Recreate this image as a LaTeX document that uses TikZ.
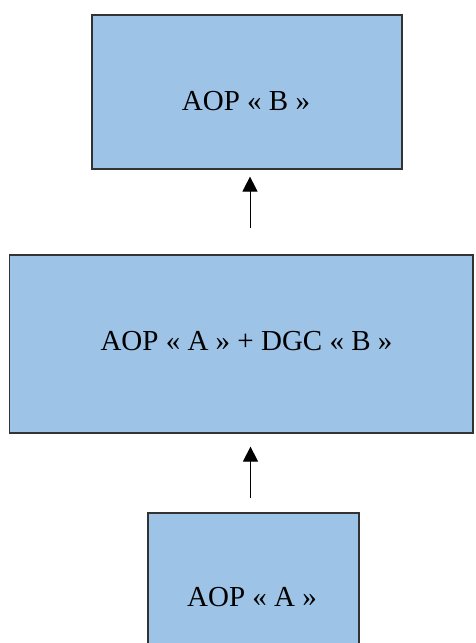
\documentclass[tikz,border=0pt]{standalone}
\usepackage{fontspec}
\setmainfont{Liberation Serif}
\usetikzlibrary{arrows.meta}
\definecolor{boxfill}{HTML}{9DC3E6}
\definecolor{boxline}{HTML}{333333}
\tikzset{
  stage/.style={draw=boxline, line width=1.2pt, fill=boxfill, rectangle, inner sep=0pt},
  lbl/.style={inner sep=0pt, font=\fontsize{29}{34}\selectfont},
  uparrow/.style={line width=1pt, -{Triangle[width=15pt,length=15pt]}}
}
\begin{document}
\begin{tikzpicture}[x=1pt,y=1pt]
  \useasboundingbox (0,0) rectangle (475,-643);
  \clip (0,0) rectangle (475,-643);
  \fill[white] (0,0) rectangle (475,-643);
  % stacked stages
  \node[stage, minimum width=310pt, minimum height=154pt] (top) at (247,-92) {};
  \node[stage, minimum width=463.5pt, minimum height=178pt] (mid) at (241.25,-344) {};
  \node[stage, minimum width=211pt, minimum height=170pt] (bot) at (253.5,-598) {};
  % captions
  \node[lbl] (ttop) at (246,-101.5) {AOP « B »};
  \node[lbl] (tmid) at (246.5,-341) {AOP « A » + DGC « B »};
  \node[lbl] (tbot) at (252,-597.5) {AOP « A »};
  % connectors
  \coordinate (c1) at (250,-228);
  \coordinate (c2) at (250.5,-498);
  \draw[uparrow, shorten >=7pt] (c1) -- (c1 |- top.south);
  \draw[uparrow, shorten >=13pt] (c2) -- (c2 |- mid.south);
\end{tikzpicture}
\end{document}
